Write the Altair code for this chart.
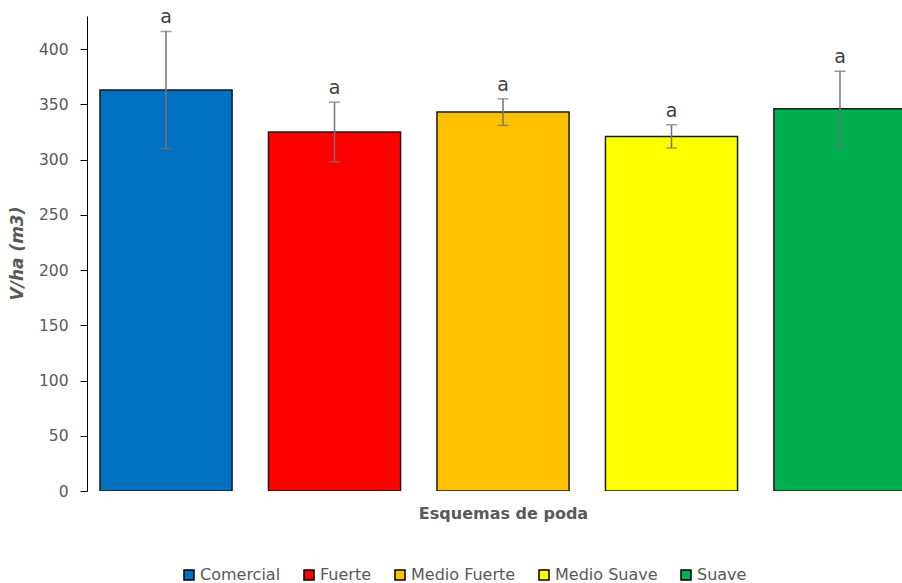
import altair as alt
import pandas as pd

# Pruning schemes, mean volume per hectare and its error
esquemas = ["Comercial", "Fuerte", "Medio Fuerte", "Medio Suave", "Suave"]
volumen = [363, 325, 343, 321, 346]
error = [53, 27, 12, 10.5, 34]
letras = ["a", "a", "a", "a", "a"]
colores = ["#0070C0", "#FF0000", "#FFC000", "#FFFF00", "#00B050"]

FONT = "DejaVu Sans"
GRAY = "#595959"
HALF = 0.392  # half bar width, in category steps

df = pd.DataFrame({
    "esquema": esquemas,
    "v": volumen,
    "err": error,
    "letra": letras,
})
df["i"] = range(len(df))
df["x0"] = df["i"] - HALF
df["x1"] = df["i"] + HALF
df["lo"] = df["v"] - df["err"]
df["hi"] = df["v"] + df["err"]

xscale = alt.Scale(domain=[-0.469, 4.368], nice=False, zero=False)
yscale = alt.Scale(domain=[0, 430], nice=False)

xaxis = alt.Axis(
    title="Esquemas de poda", labels=False, ticks=False, domain=False, grid=False,
    titleFont=FONT, titleFontSize=16, titleFontWeight="bold", titleColor=GRAY,
    titleX=416, titleY=27, titleAlign="center", titleBaseline="alphabetic",
)
yaxis = alt.Axis(
    title="V/ha (m3)", values=list(range(0, 401, 50)), grid=False,
    domainColor="#000000", tickColor="#000000", tickSize=7, labelPadding=12,
    labelFont=FONT, labelFontSize=15.5, labelColor=GRAY,
    titleFont=FONT, titleFontSize=17, titleFontWeight="bold", titleFontStyle="italic",
    titleColor=GRAY, titleAngle=270, titleX=-70, titleY=237,
    titleAlign="center", titleBaseline="middle",
)

base = alt.Chart(df)

bars = base.mark_bar(stroke="#1a1a1a", strokeWidth=1.5, clip=True).encode(
    x=alt.X("x0:Q", scale=xscale, axis=xaxis),
    x2="x1:Q",
    y=alt.Y("v:Q", scale=yscale, axis=yaxis),
    y2=alt.datum(0),
    color=alt.Color(
        "esquema:N",
        scale=alt.Scale(domain=esquemas, range=colores),
        legend=alt.Legend(
            title=None, orient="none", direction="horizontal", columns=5,
            legendX=94, legendY=551, padding=0,
            symbolType="square", symbolSize=100, symbolStrokeColor="#000000",
            symbolStrokeWidth=1.5, symbolOpacity=1,
            labelFont=FONT, labelFontSize=16, labelColor=GRAY,
            labelOffset=3, columnPadding=20,
        ),
    ),
)

rules = base.mark_rule(color="#737373", strokeWidth=1.5, clip=True).encode(
    x=alt.X("i:Q", scale=xscale), y="lo:Q", y2="hi:Q"
)
cap_hi = base.mark_tick(color="#737373", thickness=1.5, size=11, orient="horizontal").encode(
    x=alt.X("i:Q", scale=xscale), y="hi:Q"
)
cap_lo = base.mark_tick(color="#737373", thickness=1.5, size=11, orient="horizontal").encode(
    x=alt.X("i:Q", scale=xscale), y="lo:Q"
)
labels = base.mark_text(
    font=FONT, fontSize=19, color="#404040", baseline="bottom", dy=-4
).encode(x=alt.X("i:Q", scale=xscale), y="hi:Q", text="letra:N")

chart = (
    alt.layer(bars, rules, cap_hi, cap_lo, labels)
    .properties(
        width=815, height=475,
        autosize=alt.AutoSizeParams(type="none"),
        padding={"left": 87, "top": 16, "right": 0, "bottom": 92},
        background="white",
    )
    .configure_view(stroke=None)
)

chart.save("out.html", embed_options={"renderer": "svg", "actions": False})
